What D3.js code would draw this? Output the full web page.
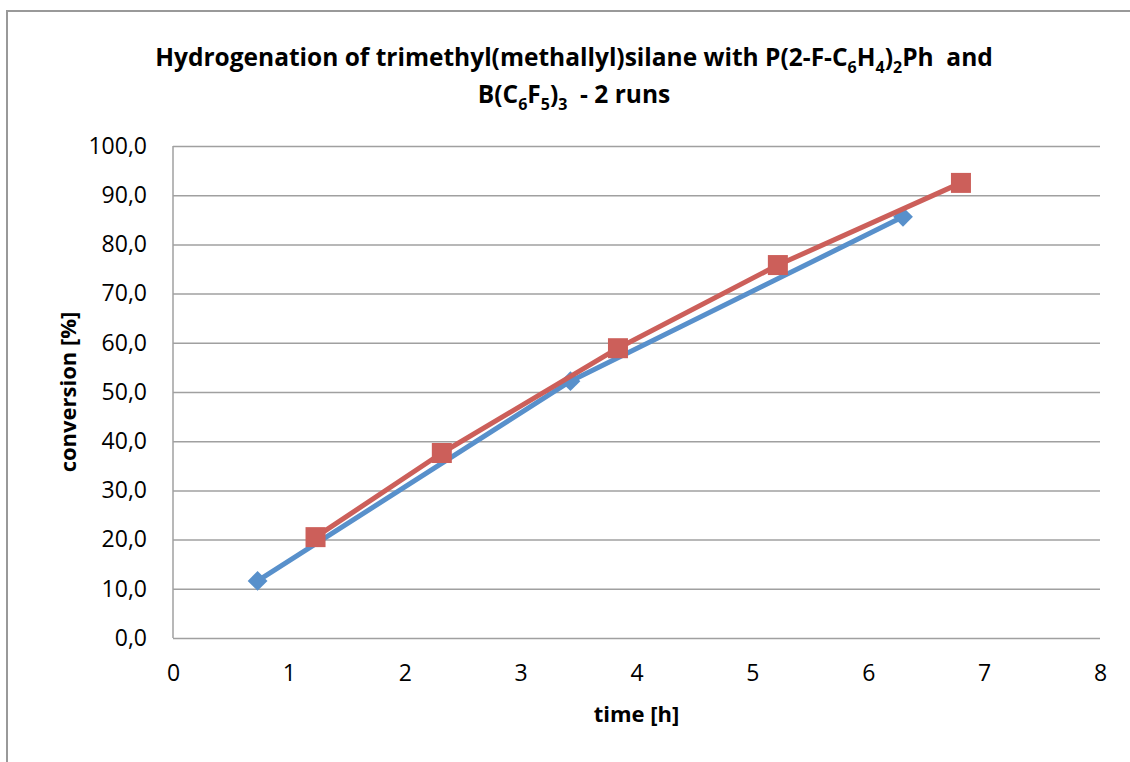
<!DOCTYPE html>
<html>
<head>
<meta charset="utf-8">
<script src="https://cdn.jsdelivr.net/npm/d3@7"></script>
<style>
  html, body { margin: 0; padding: 0; background: #fff; }
  svg { display: block; }
  text { font-family: "Open Sans", Lato, "DejaVu Sans", sans-serif; fill: #000; white-space: pre; }
</style>
</head>
<body>
<svg id="chart" width="1130" height="762"></svg>
<script>
// Run 1 (blue diamonds) and run 2 (red squares): time [h] vs conversion [%]
const run1Time = [0.73, 3.43, 6.30];
const run1Conv = [11.6, 52.2, 85.6];
const run2Time = [1.23, 2.32, 3.84, 5.22, 6.80];
const run2Conv = [20.5, 37.6, 58.9, 75.8, 92.5];
const xTicks = [0, 1, 2, 3, 4, 5, 6, 7, 8];
const yTicks = [0, 10, 20, 30, 40, 50, 60, 70, 80, 90, 100];

const svg = d3.select("#chart");
const W = 1130, H = 762;
const plot = { left: 173, top: 146, right: 1100, bottom: 638 };
const FONT = '"Open Sans", Lato, sans-serif';

// chart frame
svg.append("rect")
  .attr("x", 7).attr("y", 11)
  .attr("width", W + 20).attr("height", H + 20)
  .attr("fill", "#fff").attr("stroke", "#999").attr("stroke-width", 2);

const x = d3.scaleLinear().domain([0, 8]).range([plot.left, plot.right]);
const y = d3.scaleLinear().domain([0, 100]).range([plot.bottom, plot.top]);

// horizontal gridlines
svg.append("g")
  .attr("transform", `translate(${plot.left},0)`)
  .call(d3.axisLeft(y).tickValues(yTicks).tickSize(-(plot.right - plot.left)).tickFormat(""))
  .call(g => g.select(".domain").remove())
  .call(g => g.selectAll(".tick line").attr("stroke", "#a0a0a0").attr("stroke-width", 1.5));

// vertical axis line
svg.append("line")
  .attr("x1", plot.left).attr("x2", plot.left)
  .attr("y1", plot.top).attr("y2", plot.bottom)
  .attr("stroke", "#a0a0a0").attr("stroke-width", 1.5);

// y tick labels
svg.append("g")
  .attr("transform", `translate(${plot.left},0)`)
  .call(d3.axisLeft(y).tickValues(yTicks).tickSize(0).tickPadding(26)
    .tickFormat(d => d3.format(".1f")(d).replace(".", ",")))
  .call(g => g.select(".domain").remove())
  .call(g => g.selectAll("text").style("font-size", "23px").style("font-family", FONT));

// x tick labels
svg.append("g")
  .attr("transform", `translate(0,${plot.bottom})`)
  .call(d3.axisBottom(x).tickValues(xTicks).tickSize(0).tickPadding(27).tickFormat(d3.format("d")))
  .call(g => g.select(".domain").remove())
  .call(g => g.selectAll("text").style("font-size", "23px").style("font-family", FONT));

// axis titles
svg.append("text")
  .attr("x", (plot.left + plot.right) / 2).attr("y", 722)
  .attr("text-anchor", "middle")
  .style("font-size", "22px").style("font-weight", "bold")
  .text("time [h]");

svg.append("text")
  .attr("transform", `translate(76,${(plot.top + plot.bottom) / 2}) rotate(-90)`)
  .attr("text-anchor", "middle")
  .style("font-size", "22px").style("font-weight", "bold")
  .text("conversion [%]");

// two-line title with chemical subscripts
function titleLine(yPos, parts) {
  const t = svg.append("text")
    .attr("x", 574).attr("y", yPos)
    .attr("text-anchor", "middle")
    .style("font-size", "24.5px").style("font-weight", "bold");
  let wasSub = false;
  parts.forEach(([s, sub]) => {
    const ts = t.append("tspan").text(s);
    if (sub) ts.style("font-size", "16px").attr("dy", wasSub ? 0 : 7);
    else ts.attr("dy", wasSub ? -7 : 0);
    wasSub = sub;
  });
}
titleLine(66, [["Hydrogenation of trimethyl(methallyl)silane with P(2-F-C", false], ["6", true],
  ["H", false], ["4", true], [")", false], ["2", true], ["Ph  and", false]]);
titleLine(103, [["B(C", false], ["6", true], ["F", false], ["5", true], [")", false], ["3", true], ["  - 2 runs", false]]);

const blue = "#5890cb", red = "#cc5f5a";
const run1 = run1Time.map((t, i) => [t, run1Conv[i]]);
const run2 = run2Time.map((t, i) => [t, run2Conv[i]]);
const lineGen = d3.line().x(d => x(d[0])).y(d => y(d[1]));

svg.append("path").datum(run1).attr("d", lineGen)
  .attr("fill", "none").attr("stroke", blue).attr("stroke-width", 5).attr("stroke-linejoin", "round");
svg.selectAll(".m1").data(run1).enter().append("rect")
  .attr("class", "m1")
  .attr("x", -7).attr("y", -7).attr("width", 14).attr("height", 14)
  .attr("transform", d => `translate(${x(d[0])},${y(d[1])}) rotate(45)`)
  .attr("fill", blue);

svg.append("path").datum(run2).attr("d", lineGen)
  .attr("fill", "none").attr("stroke", red).attr("stroke-width", 5).attr("stroke-linejoin", "round");
svg.selectAll(".m2").data(run2).enter().append("rect")
  .attr("class", "m2")
  .attr("x", d => x(d[0]) - 10).attr("y", d => y(d[1]) - 10)
  .attr("width", 20).attr("height", 20)
  .attr("fill", red);
</script>
</body>
</html>
